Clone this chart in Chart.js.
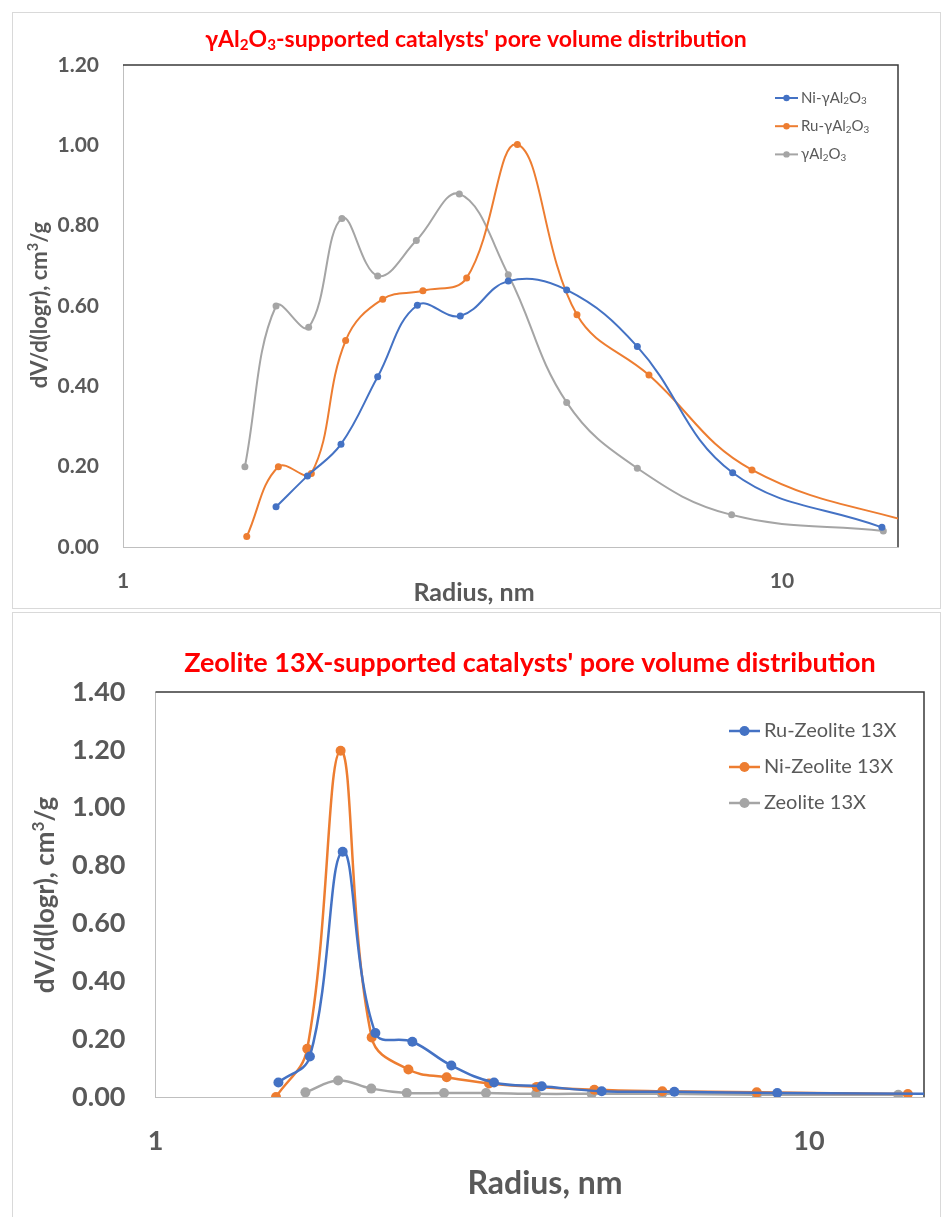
<!DOCTYPE html>
<html>
<head>
<meta charset="utf-8">
<script src="https://cdn.jsdelivr.net/npm/chart.js@4.4.0/dist/chart.umd.min.js"></script>
<style>
  body { margin: 0; background: #fff; }
  #page { position: relative; width: 946px; height: 1217px; overflow: hidden; }
  .panel { position: absolute; border: 1px solid #d9d9d9; box-sizing: border-box; }
  canvas { position: absolute; left: 0; }
</style>
</head>
<body>
<div id="page">
  <div class="panel" style="left:12px;top:12px;width:929px;height:597px"></div>
  <div class="panel" style="left:12px;top:612px;width:929px;height:640px"></div>
  <canvas id="alChart" width="946" height="608" style="top:0"></canvas>
  <canvas id="zeoChart" width="946" height="609" style="top:608px"></canvas>
</div>
<script>
// --- Data (radius in nm, dV/d(logr) in cm3/g) ---

// gamma-Al2O3 supported catalysts
const niAlRadius = [1.707, 1.905, 2.142, 2.435, 2.797, 3.250, 3.843, 4.713, 6.033, 8.418, 14.18];
const niAlValues = [0.100, 0.177, 0.256, 0.424, 0.602, 0.575, 0.662, 0.640, 0.499, 0.185, 0.049];
const ruAlRadius = [1.541, 1.721, 1.931, 2.177, 2.478, 2.852, 3.323, 3.967, 4.886, 6.283, 9.006, 17.0];
const ruAlValues = [0.026, 0.200, 0.183, 0.514, 0.617, 0.638, 0.670, 1.002, 0.578, 0.428, 0.192, 0.045];
const alRadius = [1.531, 1.707, 1.913, 2.149, 2.435, 2.787, 3.239, 3.843, 4.713, 6.033, 8.387, 14.25];
const alValues = [0.200, 0.600, 0.547, 0.818, 0.675, 0.763, 0.879, 0.678, 0.360, 0.196, 0.080, 0.040];

// Zeolite 13X supported catalysts
const ruZeoRadius = [1.542, 1.723, 1.934, 2.170, 2.472, 2.836, 3.297, 3.900, 4.818, 6.223, 8.944, 16.5];
const ruZeoValues = [0.050, 0.140, 0.848, 0.221, 0.191, 0.109, 0.050, 0.037, 0.020, 0.018, 0.014, 0.011];
const niZeoRadius = [1.529, 1.707, 1.920, 2.142, 2.438, 2.790, 3.239, 3.832, 4.694, 5.965, 8.320, 14.17];
const niZeoValues = [0.000, 0.167, 1.197, 0.206, 0.095, 0.068, 0.047, 0.035, 0.025, 0.020, 0.016, 0.010];
const zeoRadius = [1.696, 1.903, 2.139, 2.424, 2.764, 3.205, 3.823, 4.651, 5.960, 8.320, 13.70];
const zeoValues = [0.016, 0.057, 0.029, 0.014, 0.014, 0.014, 0.011, 0.011, 0.011, 0.008, 0.008];

const xTickValues = [1, 10];
const alYTicks = [0, 0.2, 0.4, 0.6, 0.8, 1.0, 1.2];
const zeoYTicks = [0, 0.2, 0.4, 0.6, 0.8, 1.0, 1.2, 1.4];

const BLUE = '#4472C4';
const ORANGE = '#ED7D31';
const GRAY = '#A5A5A5';
const TEXT = '#595959';
const FONT = 'Lato, "Open Sans", sans-serif';

// --- Rich text helpers (sub / superscripts) ---

function segFont(size, weight, mode) {
    const s = mode ? size * 0.66 : size;
    return `${weight} ${s}px ${FONT}`;
}

function richWidth(ctx, segs, size, weight) {
    let w = 0;
    segs.forEach(([t, mode]) => {
        ctx.font = segFont(size, weight, mode);
        w += ctx.measureText(t).width;
    });
    return w;
}

function drawRich(ctx, it) {
    const { segs, size, weight, color } = it;
    ctx.save();
    ctx.translate(it.x, it.y);
    if (it.rotate) ctx.rotate(-Math.PI / 2);
    const total = richWidth(ctx, segs, size, weight);
    let x = it.align === 'left' ? 0 : -total / 2;
    ctx.fillStyle = color;
    ctx.textBaseline = 'middle';
    ctx.textAlign = 'left';
    segs.forEach(([t, mode]) => {
        ctx.font = segFont(size, weight, mode);
        let dy = 0;
        if (mode === 'sub') dy = size * 0.22;
        if (mode === 'sup') dy = -size * 0.3;
        ctx.fillText(t, x, dy);
        x += ctx.measureText(t).width;
    });
    ctx.restore();
}

// Draws titles, legend and the dark top/right plot frame
function makeDeco(cfg) {
    return {
        id: 'deco',
        beforeDatasetsDraw(chart) {
            const { ctx, chartArea: a } = chart;
            ctx.save();
            ctx.strokeStyle = '#3a3a3a';
            ctx.lineWidth = 1.5;
            ctx.beginPath();
            ctx.moveTo(a.left, a.top);
            ctx.lineTo(a.right, a.top);
            ctx.lineTo(a.right, a.bottom);
            ctx.stroke();
            ctx.restore();
        },
        afterDraw(chart) {
            const ctx = chart.ctx;
            cfg.texts.forEach(it => drawRich(ctx, it));
            const lg = cfg.legend;
            lg.rows.forEach((row, i) => {
                const y = lg.y0 + i * lg.dy;
                ctx.save();
                ctx.strokeStyle = row.color;
                ctx.fillStyle = row.color;
                ctx.lineWidth = lg.lineWidth;
                ctx.beginPath();
                ctx.moveTo(lg.x1, y);
                ctx.lineTo(lg.x2, y);
                ctx.stroke();
                ctx.beginPath();
                ctx.arc((lg.x1 + lg.x2) / 2, y, lg.r, 0, Math.PI * 2);
                ctx.fill();
                ctx.restore();
                drawRich(ctx, { segs: row.segs, x: lg.tx, y: y, size: lg.size, weight: 'normal', color: TEXT, align: 'left' });
            });
        }
    };
}

function toPoints(xs, ys) {
    return xs.map((x, i) => ({ x: x, y: ys[i] }));
}

function series(label, xs, ys, color, lw, r) {
    return {
        label: label,
        data: toPoints(xs, ys),
        borderColor: color,
        backgroundColor: color,
        borderWidth: lw,
        pointRadius: r,
        pointBorderWidth: 0,
        pointBackgroundColor: color,
        tension: 0.4,
        fill: false
    };
}

function buildChart(canvasId, c) {
    return new Chart(document.getElementById(canvasId), {
        type: 'line',
        data: { datasets: c.datasets },
        options: {
            responsive: false,
            animation: false,
            layout: { padding: c.padding },
            plugins: { legend: { display: false }, tooltip: { enabled: false } },
            scales: {
                x: {
                    type: 'logarithmic',
                    min: 1,
                    max: 15,
                    grid: { display: false },
                    border: { display: true, color: '#BFBFBF', width: 1 },
                    afterBuildTicks: s => { s.ticks = xTickValues.map(v => ({ value: v })); },
                    afterFit: s => { s.height = c.xHeight; },
                    ticks: {
                        color: TEXT,
                        font: { family: FONT, size: c.tickSize, weight: 'bold' },
                        padding: c.xTickPad,
                        maxRotation: 0,
                        autoSkip: false,
                        callback: v => String(v)
                    }
                },
                y: {
                    min: 0,
                    max: c.yMax,
                    grid: { display: false },
                    border: { display: true, color: '#BFBFBF', width: 1 },
                    afterBuildTicks: s => { s.ticks = c.yTicks.map(v => ({ value: v })); },
                    afterFit: s => { s.width = c.yWidth; },
                    ticks: {
                        color: TEXT,
                        font: { family: FONT, size: c.tickSize, weight: 'bold' },
                        padding: c.yTickPad,
                        callback: v => v.toFixed(2)
                    }
                }
            }
        },
        plugins: [makeDeco(c.deco)]
    });
}

// --- Top chart: gamma-Al2O3 ---
buildChart('alChart', {
    datasets: [
        series('Ni-γAl2O3', niAlRadius, niAlValues, BLUE, 2, 3.5),
        series('Ru-γAl2O3', ruAlRadius, ruAlValues, ORANGE, 2, 3.5),
        series('γAl2O3', alRadius, alValues, GRAY, 2, 3.5)
    ],
    padding: { top: 65, right: 48, left: 0, bottom: 0 },
    xHeight: 61,
    yWidth: 123,
    yMax: 1.2,
    yTicks: alYTicks,
    tickSize: 21,
    xTickPad: 14,
    yTickPad: 16,
    deco: {
        texts: [
            { segs: [['γAl', ''], ['2', 'sub'], ['O', ''], ['3', 'sub'], ["-supported catalysts' pore volume distribution", '']],
              x: 476, y: 40, size: 23, weight: 'bold', color: '#FF0000' },
            { segs: [['dV/d(logr), cm', ''], ['3', 'sup'], ['/g', '']],
              x: 40, y: 305, size: 22, weight: 'bold', color: TEXT, rotate: true },
            { segs: [['Radius, nm', '']], x: 474, y: 593, size: 25, weight: 'bold', color: TEXT }
        ],
        legend: {
            x1: 775, x2: 798, tx: 801, y0: 98, dy: 28.2, r: 3.2, lineWidth: 2, size: 15,
            rows: [
                { color: BLUE, segs: [['Ni-γAl', ''], ['2', 'sub'], ['O', ''], ['3', 'sub']] },
                { color: ORANGE, segs: [['Ru-γAl', ''], ['2', 'sub'], ['O', ''], ['3', 'sub']] },
                { color: GRAY, segs: [['γAl', ''], ['2', 'sub'], ['O', ''], ['3', 'sub']] }
            ]
        }
    }
});

// --- Bottom chart: Zeolite 13X (canvas starts at page y = 608) ---
buildChart('zeoChart', {
    datasets: [
        series('Ru-Zeolite 13X', ruZeoRadius, ruZeoValues, BLUE, 2.5, 5),
        series('Ni-Zeolite 13X', niZeoRadius, niZeoValues, ORANGE, 2.5, 5),
        series('Zeolite 13X', zeoRadius, zeoValues, GRAY, 2.5, 5)
    ],
    padding: { top: 84, right: 22, left: 0, bottom: 0 },
    xHeight: 120,
    yWidth: 155.5,
    yMax: 1.4,
    yTicks: zeoYTicks,
    tickSize: 27,
    xTickPad: 20,
    yTickPad: 22,
    deco: {
        texts: [
            { segs: [["Zeolite 13X-supported catalysts' pore volume distribution", '']],
              x: 530, y: 55, size: 27, weight: 'bold', color: '#FF0000' },
            { segs: [['dV/d(logr), cm', ''], ['3', 'sup'], ['/g', '']],
              x: 46, y: 287, size: 26, weight: 'bold', color: TEXT, rotate: true },
            { segs: [['Radius, nm', '']], x: 545, y: 576, size: 32, weight: 'bold', color: TEXT }
        ],
        legend: {
            x1: 729, x2: 760, tx: 764, y0: 123, dy: 36, r: 5, lineWidth: 2.5, size: 20,
            rows: [
                { color: BLUE, segs: [['Ru-Zeolite 13X', '']] },
                { color: ORANGE, segs: [['Ni-Zeolite 13X', '']] },
                { color: GRAY, segs: [['Zeolite 13X', '']] }
            ]
        }
    }
});
</script>
</body>
</html>
